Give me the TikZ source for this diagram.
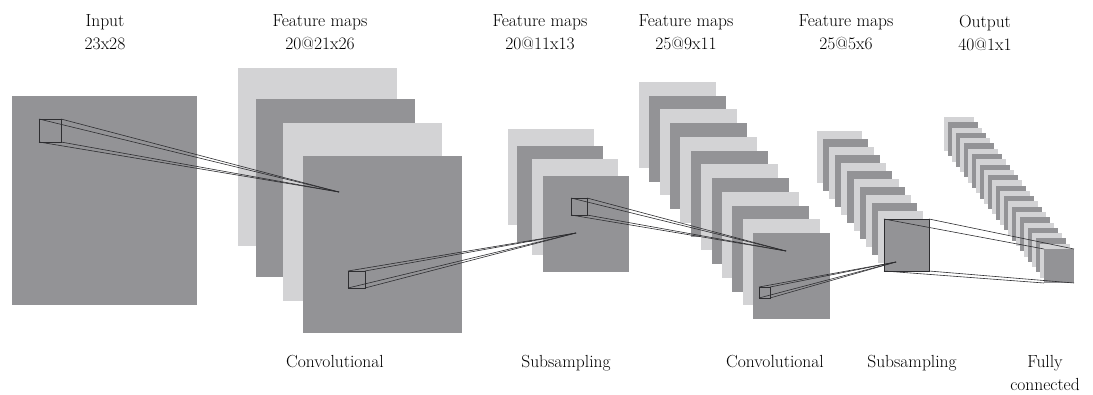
\documentclass[tikz,border=0pt]{standalone}
\usepackage{fontspec}
\definecolor{lightg}{RGB}{211,211,213}
\definecolor{darkg}{RGB}{147,147,150}
\definecolor{linec}{RGB}{45,45,48}
\begin{document}
\begin{tikzpicture}[x=1pt,y=-1pt,
  map/.style={rectangle,inner sep=0pt,outer sep=0pt,anchor=north west,draw=none},
  lightmap/.style={map,fill=lightg},
  darkmap/.style={map,fill=darkg},
  probe/.style={map,draw=linec,line width=0.7pt},
  ray/.style={draw=linec,line width=0.6pt},
  lbl/.style={font=\rmfamily\fontsize{17.5}{23}\selectfont,align=center,inner sep=0pt,outer sep=0pt}]
\useasboundingbox (0,0) rectangle (1093,394);

% input
\node[darkmap,minimum width=185pt,minimum height=209pt] (in) at (12,96) {};

% stack 1
\node[lightmap,minimum width=159pt,minimum height=178pt] (a0) at (238,68) {};
\node[darkmap,minimum width=159pt,minimum height=178pt] (a1) at (256,99) {};
\node[lightmap,minimum width=159pt,minimum height=178pt] (a2) at (283,123) {};
\node[darkmap,minimum width=159pt,minimum height=177pt] (a3) at (303,156) {};

% stack 2
\node[lightmap,minimum width=86pt,minimum height=96pt] (b0) at (508,129) {};
\node[darkmap,minimum width=86pt,minimum height=96pt] (b1) at (517,146) {};
\node[lightmap,minimum width=86pt,minimum height=96pt] (b2) at (532,159) {};
\node[darkmap,minimum width=86pt,minimum height=96pt] (b3) at (543,176) {};

% stack 3
\foreach \i in {0,...,11}{
  \pgfmathsetmacro\xx{639+\i*10.364}
  \pgfmathsetmacro\yy{82+\i*13.727}
  \ifodd\i\def\mycol{darkg}\else\def\mycol{lightg}\fi
  \node[map,fill=\mycol,minimum width=77pt,minimum height=86pt] (c\i) at (\xx,\yy) {};
}

% stack 4
\foreach \i in {0,...,11}{
  \pgfmathsetmacro\xx{817+\i*6.09}
  \pgfmathsetmacro\yy{131+\i*8.0}
  \ifodd\i\def\mycol{darkg}\else\def\mycol{lightg}\fi
  \node[map,fill=\mycol,minimum width=45pt,minimum height=52pt] (d\i) at (\xx,\yy) {};
}
\draw[ray] (d11.north west) rectangle (d11.south east);

% output stack
\foreach \i in {0,...,25}{
  \pgfmathsetmacro\xx{944+\i*4.0}
  \pgfmathsetmacro\yy{117+\i*5.28}
  \ifodd\i\def\mycol{darkg}\else\def\mycol{lightg}\fi
  \node[map,fill=\mycol,minimum width=30pt,minimum height=34pt] (o\i) at (\xx,\yy) {};
}

% probes and apexes
\node[probe,minimum width=22pt,minimum height=23pt] (p0) at (39,119) {};
\node[probe,minimum width=17pt,minimum height=17pt] (p1) at (348,271) {};
\node[probe,minimum width=16pt,minimum height=17pt] (p2) at (571,198) {};
\node[probe,minimum width=11pt,minimum height=11pt] (p3) at (759,287) {};
\coordinate (x1) at (339,192);
\coordinate (x2) at (576,233);
\coordinate (x3) at (786,251);
\coordinate (x4) at (896,262);

\foreach \c in {north west,north east,south west,south east}{
  \draw[ray] (p0.\c) -- (x1);
  \draw[ray] (p1.\c) -- (x2);
  \draw[ray] (p2.\c) -- (x3);
  \draw[ray] (p3.\c) -- (x4);
  \draw[ray] (d11.\c) -- (o25.\c);
}

% labels
\node[lbl,anchor=north] (t0) at (105,15) {Input\\23x28};
\node[lbl,anchor=north] (t1) at (320,15) {Feature maps\\20@21x26};
\node[lbl,anchor=north] (t2) at (540,15) {Feature maps\\20@11x13};
\node[lbl,anchor=north] (t3) at (686,15) {Feature maps\\25@9x11};
\node[lbl,anchor=north] (t4) at (846,15) {Feature maps\\25@5x6};
\node[lbl,anchor=north] (t5) at (985,15) {Output\\40@1x1};

\node[lbl,anchor=base] (l1) at (335,367) {Convolutional};
\node[lbl,anchor=base] (l2) at (566,367) {Subsampling};
\node[lbl,anchor=base] (l3) at (775,367) {Convolutional};
\node[lbl,anchor=base] (l4) at (912,367) {Subsampling};
\node[lbl,anchor=north] (l5) at (1045,355) {Fully\\connected};
\end{tikzpicture}
\end{document}
